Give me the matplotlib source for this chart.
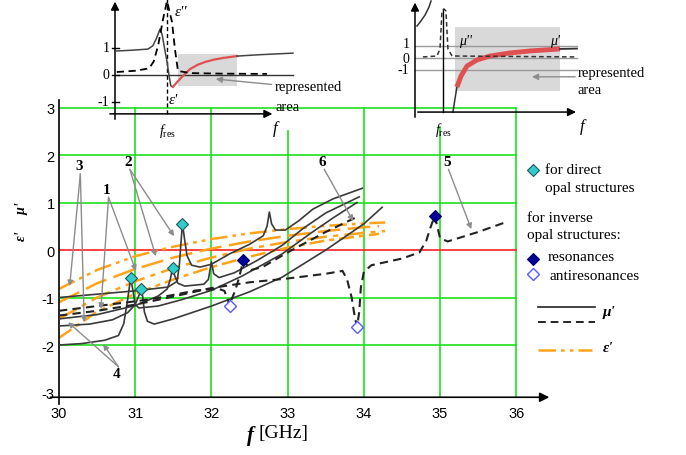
import numpy as np
import matplotlib.pyplot as plt
from matplotlib.patches import Rectangle

plt.rcParams["font.family"] = ["Liberation Serif", "DejaVu Serif"]
plt.rcParams["axes.unicode_minus"] = False
plt.rcParams["mathtext.fontset"] = "custom"
plt.rcParams["mathtext.rm"] = "Liberation Serif"
plt.rcParams["mathtext.it"] = "Liberation Serif:italic"
plt.rcParams["mathtext.bf"] = "Liberation Serif:bold"

# ---------------- main chart data: (frequency GHz, value) ----------------
f_ticks = [30, 31, 32, 33, 34, 35, 36]
v_ticks = [-3, -2, -1, 0, 1, 2, 3]

# mu' for direct opal structures (solid)
mu_s1 = [(30.0, -2.0), (30.3, -1.97), (30.6, -1.9), (30.78, -1.8), (30.85, -1.55),
         (30.9, -1.05), (30.94, -0.59), (30.97, -0.85), (31.0, -1.15), (31.05, -1.22),
         (31.3, -1.18), (31.6, -1.05), (32.0, -0.85), (32.4, -0.55), (32.93, -0.08),
         (33.3, 0.35), (33.6, 0.68), (33.91, 1.0)]
mu_s2 = [(30.0, -1.6), (30.4, -1.56), (30.7, -1.47), (30.9, -1.32), (31.0, -1.15),
         (31.05, -0.95), (31.08, -0.82), (31.1, -1.0), (31.12, -1.3), (31.16, -1.5),
         (31.25, -1.56), (31.5, -1.45), (32.0, -1.18), (32.5, -0.88), (32.93, -0.57),
         (33.5, 0.0), (34.0, 0.55), (34.24, 0.9)]
mu_s3 = [(30.0, -1.45), (30.5, -1.36), (31.0, -1.17), (31.3, -0.97), (31.42, -0.82),
         (31.46, -0.62), (31.49, -0.38), (31.52, -0.55), (31.56, -0.7), (31.65, -0.76),
         (31.9, -0.72), (31.96, -0.62), (32.0, -0.25), (32.03, -0.5), (32.1, -0.58),
         (32.3, -0.48), (32.6, -0.22), (32.93, 0.1), (33.2, 0.45), (33.5, 0.78),
         (33.94, 1.12)]
mu_s4 = [(30.0, -1.0), (30.5, -0.93), (31.0, -0.86), (31.43, -0.78), (31.55, -0.66),
         (31.58, -0.3), (31.6, 0.15), (31.62, 0.55), (31.65, 0.2), (31.68, -0.12),
         (31.74, -0.32), (31.85, -0.36), (32.0, -0.3), (32.24, -0.08), (32.5, 0.12),
         (32.68, 0.3), (32.73, 0.5), (32.76, 0.8), (32.79, 0.55), (32.84, 0.42),
         (32.97, 0.42), (33.15, 0.62), (33.33, 0.86), (33.6, 1.08), (33.98, 1.3)]

# mu' for inverse opal structures (dashed)
mu_d1 = [(30.0, -1.28), (30.5, -1.18), (31.0, -1.08), (31.23, -1.03), (31.8, -0.85),
         (32.1, -0.82), (32.17, -0.86), (32.21, -1.02), (32.24, -1.18), (32.27, -1.02),
         (32.31, -0.86), (32.36, -0.6), (32.42, -0.21), (32.46, -0.3), (32.52, -0.42),
         (32.67, -0.36), (33.0, -0.05), (33.5, 0.38), (33.94, 0.72)]
mu_d2 = [(30.0, -1.38), (30.5, -1.28), (31.0, -1.15), (31.5, -0.98), (32.0, -0.8),
         (32.5, -0.68), (33.0, -0.6), (33.5, -0.5), (33.72, -0.44), (33.78, -0.62),
         (33.84, -1.0), (33.88, -1.4), (33.91, -1.62), (33.94, -1.3), (33.96, -0.8),
         (34.0, -0.46), (34.1, -0.32), (34.5, -0.18), (34.73, -0.05), (34.82, 0.2),
         (34.88, 0.5), (34.93, 0.72), (34.97, 0.45), (35.0, 0.25), (35.1, 0.18),
         (35.5, 0.38), (35.87, 0.59)]

# eps' (orange)
eps_1 = [(30.0, -0.82), (30.5, -0.42), (31.0, -0.13), (31.5, 0.07), (32.0, 0.23),
         (32.5, 0.35), (33.0, 0.44), (33.5, 0.51), (34.0, 0.56), (34.28, 0.58)]
eps_2 = [(30.0, -1.1), (30.5, -0.7), (31.0, -0.4), (31.5, -0.16), (32.0, 0.03),
         (32.5, 0.18), (33.0, 0.3), (33.5, 0.4), (34.0, 0.48), (34.2, 0.5)]
eps_3 = [(30.0, -1.45), (30.5, -1.0), (31.0, -0.66), (31.5, -0.38), (32.0, -0.16),
         (32.5, 0.03), (33.0, 0.17), (33.5, 0.28), (34.0, 0.36), (34.28, 0.4)]
eps_4 = [(30.0, -1.85), (30.5, -1.3), (31.0, -0.92), (31.5, -0.62), (32.0, -0.36),
         (32.5, -0.14), (33.0, 0.05), (33.5, 0.2), (34.0, 0.3), (34.2, 0.34)]

direct_f = [30.94, 31.08, 31.49, 31.62]
direct_v = [-0.59, -0.82, -0.38, 0.55]
res_f = [32.42, 34.93]
res_v = [-0.21, 0.72]
antires_f = [32.24, 33.91]
antires_v = [-1.18, -1.62]

# curve labels and the points their arrows reach
lbl_text = ["3", "2", "1", "6", "5", "4"]
lbl_pos = [(30.26, 1.77), (30.91, 1.87), (30.63, 1.28), (33.46, 1.87), (35.09, 1.87), (30.76, -2.61)]
lbl_tips = [[(30.14, -0.76), (30.33, -1.52)],
            [(31.27, -0.13), (31.51, 0.29)],
            [(30.55, -1.24), (31.01, -0.44)],
            [(33.86, 0.61)],
            [(35.41, 0.44)],
            [(30.12, -1.52), (30.58, -1.98)]]

# ---------------- inset data (schematic units) ----------------
eps_re_a = [(0.1, 0.89), (1.0, 0.92), (1.83, 0.96), (2.1, 1.08), (2.3, 1.35), (2.5, 1.7),
            (2.62, 1.5), (2.75, 1.0), (2.89, 0.5), (3.0, 0.0), (3.1, -0.4), (3.22, -0.44)]
eps_re_red = [(3.22, -0.44), (3.4, -0.3), (3.61, -0.15), (3.9, 0.05), (4.17, 0.22),
              (4.6, 0.38), (5.0, 0.48), (5.5, 0.57), (6.0, 0.63), (6.78, 0.7)]
eps_re_b = [(6.78, 0.7), (8.0, 0.75), (9.89, 0.81)]
eps_im = [(0.1, 0.11), (1.2, 0.16), (1.9, 0.25), (2.15, 0.5), (2.4, 1.1), (2.67, 2.07),
          (2.89, 2.74), (3.17, 1.96), (3.33, 0.96), (3.5, 0.15), (4.2, 0.07), (6.0, 0.05),
          (8.44, 0.04)]

mu_re_left = [(0.11, 2.72), (0.33, 3.15), (0.56, 3.66), (0.78, 4.34), (0.89, 4.85)]
mu_re_a = [(2.11, -4.6), (2.22, -3.49), (2.33, -2.47)]
mu_re_red = [(2.33, -2.47), (2.56, -1.53), (2.89, -0.68), (3.44, -0.17), (4.17, 0.17),
             (5.28, 0.43), (6.39, 0.6), (8.06, 0.77)]
mu_re_b = [(8.06, 0.77), (9.0, 0.8)]
mu_im = [(0.44, 0.09), (1.22, 0.17), (1.39, 0.77), (1.5, 4.0), (1.61, 4.17), (1.72, 4.0),
         (1.83, 0.77), (2.06, 0.17), (9.0, 0.09)]

W, H = 686, 456


def px_rect(x0, y0, x1, y1):
    return [x0 / W, 1 - y1 / H, (x1 - x0) / W, (y1 - y0) / H]


def xy(c):
    return np.array(c).T


fig = plt.figure(figsize=(6.86, 4.56), dpi=100, facecolor="white")

# ---------------- main axes ----------------
ax = fig.add_axes(px_rect(59, 101.4, 562, 403))
ax.set_xlim(30, 36.6)
ax.set_ylim(-3.2, 3.15)
for s in ax.spines.values():
    s.set_visible(False)
ax.set_xticks(f_ticks)
ax.set_yticks(v_ticks)
ax.tick_params(length=0, labelsize=10.5, pad=3)
for t in ax.get_xticklabels() + ax.get_yticklabels():
    t.set_family("Liberation Sans")

green = "#1ee01e"
grid_top = [3, 3, 2.5, 3, 2.6, 3]
for f, top in zip(f_ticks[1:], grid_top):
    ax.plot([f, f], [-3.1, top], color=green, lw=1.2, zorder=1)
for v in [-2, -1, 1, 2, 3]:
    ax.plot([30, 36], [v, v], color=green, lw=1.2, zorder=1)
ax.plot([30, 36], [0, 0], color="#ff2020", lw=1.2, zorder=1)

ax.plot([30, 30], [-3.25, 3.15], color="black", lw=1.2, clip_on=False, zorder=3)
ax.annotate("", xy=(36.47, -3.1), xytext=(29.85, -3.1),
            arrowprops=dict(arrowstyle="-|>", color="black", lw=1.2, mutation_scale=14),
            annotation_clip=False)

orange = "#ffa31a"
eps_dashes = [[7, 2, 1.5, 2, 1.5, 2], [9, 3], [8, 2.5, 2, 2.5], [6, 2, 2, 2]]
for c, d in zip([eps_1, eps_2, eps_3, eps_4], eps_dashes):
    ax.plot(*xy(c), color=orange, lw=1.8, dashes=d, zorder=2)

for c in [mu_s1, mu_s2, mu_s3, mu_s4]:
    ax.plot(*xy(c), color="#3a3a3a", lw=1.2, zorder=3)
for c in [mu_d1, mu_d2]:
    ax.plot(*xy(c), color="#222222", lw=1.5, dashes=[4, 2.5], zorder=3)

ax.plot(direct_f, direct_v, "D", ms=6, mfc="#33cccc", mec="#1d5a5a", mew=0.8, zorder=5)
ax.plot(res_f, res_v, "D", ms=6, mfc="#000099", mec="#000066", mew=0.8, zorder=5)
ax.plot(antires_f, antires_v, "D", ms=6, mfc="white", mec="#5a5aff", mew=1.0, zorder=5)

for t, p, tips in zip(lbl_text, lbl_pos, lbl_tips):
    ax.text(p[0], p[1], t, fontsize=11, fontweight="bold", ha="center", va="center", zorder=6)
    for tip in tips:
        ax.annotate("", xy=tip, xytext=(p[0] + 0.02, p[1] - 0.17 if p[1] > 0 else p[1] + 0.15),
                    arrowprops=dict(arrowstyle="-|>", color="#8c8c8c", lw=1.0,
                                    mutation_scale=8, shrinkA=0, shrinkB=0), zorder=6)

# ---------------- left inset ----------------
ia = fig.add_axes(px_rect(100, 0, 300, 122))
ia.set_xlim(-0.833, 10.28)
ia.set_ylim(-1.704, 2.815)
ia.axis("off")
ia.add_patch(Rectangle((3.5, -0.41), 3.28, 1.19, color="#d9d9d9", lw=0, zorder=0))
ia.plot([0.1, 9.89], [0, 0], color="#333333", lw=1.0)
ia.plot([2.89, 2.89], [-1.44, 2.8], color="black", lw=1.0, dashes=[3, 2])
ia.plot(*xy(eps_re_a), color="#444444", lw=1.1)
ia.plot(*xy(eps_re_red), color="#e05050", lw=1.6)
ia.plot(*xy(eps_re_b), color="#444444", lw=1.1)
ia.plot(*xy(eps_im), color="black", lw=1.3, dashes=[4, 2.5])
ia.plot([0, 0], [-1.63, 2.6], color="black", lw=1.1)
ia.annotate("", xy=(0, 2.82), xytext=(0, 2.3),
            arrowprops=dict(arrowstyle="-|>", color="black", lw=1.1, mutation_scale=12))
ia.annotate("", xy=(8.9, -1.44), xytext=(-0.44, -1.44),
            arrowprops=dict(arrowstyle="-|>", color="black", lw=1.1, mutation_scale=12))
for v, s in zip([1, 0, -1], ["1", "0", "-1"]):
    ia.plot([-0.15, 0.25], [v, v], color="black", lw=1.0)
    ia.text(-0.3, v, s, fontsize=10, ha="right", va="center")
ia.text(3.3, 2.35, "ε''", fontsize=11, style="italic", ha="left", va="center")
ia.text(3.0, -0.9, "ε'", fontsize=11, style="italic", ha="left", va="center")
ia.text(2.89, -2.05, r"$f_{\mathrm{res}}$", fontsize=10, ha="center", va="center", clip_on=False)
ia.text(8.9, -1.95, "f", fontsize=12, style="italic", ha="center", va="center", clip_on=False)
ia.text(8.9, -0.44, "represented", fontsize=10.5, ha="left", va="center", clip_on=False)
ia.text(8.9, -1.15, "area", fontsize=10.5, ha="left", va="center", clip_on=False)
ia.annotate("", xy=(5.6, -0.15), xytext=(8.7, -0.35),
            arrowprops=dict(arrowstyle="-|>", color="#8c8c8c", lw=1.0, mutation_scale=9,
                            shrinkA=0, shrinkB=0))

# ---------------- right inset ----------------
ib = fig.add_axes(px_rect(400, 0, 600, 122))
ib.set_xlim(-0.833, 10.28)
ib.set_ylim(-5.36, 5.02)
ib.axis("off")
ib.add_patch(Rectangle((2.22, -2.81), 5.84, 5.45, color="#d9d9d9", lw=0, zorder=0))
for v in [1, 0, -1]:
    ib.plot([0, 9.0], [v, v], color="#9a9a9a", lw=1.0)
ib.plot([1.56, 1.56], [-4.6, 4.17], color="black", lw=1.0)
ib.plot(*xy(mu_re_left), color="#333333", lw=1.1)
ib.plot(*xy(mu_re_a), color="#333333", lw=1.1)
ib.plot(*xy(mu_re_red), color="#e05050", lw=3.5, solid_capstyle="butt")
ib.plot(*xy(mu_re_b), color="#333333", lw=1.3)
ib.plot(*xy(mu_im), color="#333333", lw=1.1, dashes=[3, 2])
ib.plot([0, 0], [-5.0, 4.4], color="black", lw=1.1)
ib.annotate("", xy=(0, 4.95), xytext=(0, 3.8),
            arrowprops=dict(arrowstyle="-|>", color="black", lw=1.1, mutation_scale=12))
ib.annotate("", xy=(9.1, -4.6), xytext=(0, -4.6),
            arrowprops=dict(arrowstyle="-|>", color="black", lw=1.1, mutation_scale=12))
for v, s in zip([1, 0, -1], ["1", "0", "-1"]):
    ib.text(-0.3, v + (0.25 if v == 1 else 0), s, fontsize=10, ha="right", va="center")
ib.text(2.45, 1.45, "μ''", fontsize=10, style="italic", ha="left", va="center")
ib.text(7.5, 1.45, "μ'", fontsize=10, style="italic", ha="left", va="center")
ib.text(1.56, -6.0, r"$f_{\mathrm{res}}$", fontsize=10, ha="center", va="center", clip_on=False)
ib.text(9.3, -5.8, "f", fontsize=12, style="italic", ha="center", va="center", clip_on=False)
ib.text(9.05, -1.2, "represented", fontsize=10.5, ha="left", va="center", clip_on=False)
ib.text(9.05, -2.65, "area", fontsize=10.5, ha="left", va="center", clip_on=False)
ib.annotate("", xy=(6.5, -1.6), xytext=(8.9, -1.6),
            arrowprops=dict(arrowstyle="-|>", color="#8c8c8c", lw=1.0, mutation_scale=9,
                            shrinkA=0, shrinkB=0))

# ---------------- axis titles and key (figure pixels) ----------------
ov = fig.add_axes([0, 0, 1, 1])
ov.set_xlim(0, W)
ov.set_ylim(H, 0)
ov.axis("off")

ov.text(22, 222, "ε'     μ'", fontsize=10, fontweight="bold", style="italic",
        rotation=90, ha="center", va="center")
ov.text(254, 436, "f", fontsize=15, fontweight="bold", style="italic", ha="right", va="center")
ov.text(258, 434, "[GHz]", fontsize=14, ha="left", va="center")

ov.plot([533], [171], "D", ms=6, mfc="#33cccc", mec="#1d5a5a", mew=0.8)
ov.text(545, 171, "for direct", fontsize=11, ha="left", va="center")
ov.text(545, 189, "opal structures", fontsize=11, ha="left", va="center")
ov.text(527, 219, "for inverse", fontsize=11, ha="left", va="center")
ov.text(527, 236, "opal structures:", fontsize=11, ha="left", va="center")
ov.plot([533], [260], "D", ms=6, mfc="#000099", mec="#000066", mew=0.8)
ov.text(548, 258, "resonances", fontsize=11, ha="left", va="center")
ov.plot([533], [275], "D", ms=6, mfc="white", mec="#5a5aff", mew=1.0)
ov.text(549, 277, "antiresonances", fontsize=11, ha="left", va="center")
ov.plot([538, 595], [308, 308], color="#222222", lw=1.2)
ov.plot([538, 595], [323, 323], color="#222222", lw=1.4, dashes=[4, 2.5])
ov.text(603, 313, "μ'", fontsize=11, fontweight="bold", style="italic", ha="left", va="center")
ov.plot([538, 592], [351, 351], color=orange, lw=1.8, dashes=[7, 2, 1.5, 2, 1.5, 2])
ov.text(603, 349, "ε'", fontsize=11, fontweight="bold", style="italic", ha="left", va="center")

fig.savefig("out.png", dpi=100, facecolor="white")
